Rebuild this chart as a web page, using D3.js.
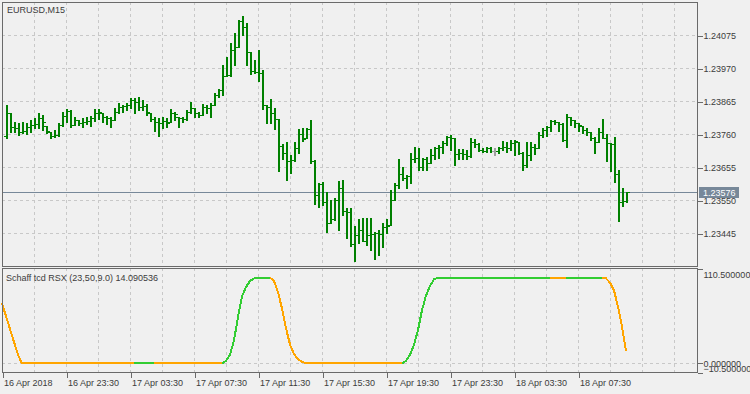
<!DOCTYPE html>
<html>
<head>
<meta charset="utf-8">
<script src="https://cdn.jsdelivr.net/npm/d3@7"></script>
<style>
body { margin: 0; background: #f0f0f0; }
svg text { font-family: "Liberation Sans", Arial, sans-serif; font-size: 9px; fill: #3c3c3c; }
</style>
</head>
<body>
<script>
// EURUSD M15, bars 1..156 (bar 0 sits under the left frame)
var symbol = "EURUSD,M15";
var firstBar = 1;

var opens = [
1.23754,1.23827,1.23782,1.23779,1.23767,1.23770,1.23782,1.23789,1.23792,1.23811,
1.23786,1.23767,1.23754,1.23757,1.23789,1.23817,1.23833,1.23789,1.23805,1.23795,
1.23798,1.23802,1.23811,1.23827,1.23827,1.23814,1.23811,1.23805,1.23830,1.23846,
1.23849,1.23852,1.23868,1.23862,1.23846,1.23849,1.23827,1.23808,1.23798,1.23795,
1.23802,1.23798,1.23827,1.23814,1.23811,1.23808,1.23830,1.23843,1.23827,1.23821,
1.23846,1.23843,1.23852,1.23884,1.23900,1.23945,1.23948,1.24027,1.24037,1.24120,
1.24100,1.24021,1.23961,1.23957,1.23954,1.23852,1.23846,1.23827,1.23808,1.23722,
1.23700,1.23674,1.23677,1.23716,1.23760,1.23747,1.23776,1.23674,1.23566,1.23601,
1.23544,1.23477,1.23490,1.23550,1.23588,1.23515,1.23512,1.23410,1.23439,1.23455,
1.23420,1.23439,1.23442,1.23445,1.23442,1.23464,1.23471,1.23550,1.23598,1.23633,
1.23620,1.23627,1.23681,1.23684,1.23655,1.23681,1.23668,1.23693,1.23716,1.23719,
1.23732,1.23751,1.23747,1.23697,1.23700,1.23697,1.23690,1.23735,1.23728,1.23709,
1.23706,1.23716,1.23706,1.23706,1.23716,1.23719,1.23716,1.23732,1.23735,1.23700,
1.23662,1.23693,1.23719,1.23716,1.23757,1.23773,1.23782,1.23802,1.23798,1.23792,
1.23741,1.23814,1.23805,1.23795,1.23786,1.23773,1.23767,1.23747,1.23735,1.23767,
1.23747,1.23732,1.23728,1.23633,1.23544,1.23547
];
var highs = [
1.23852,1.23827,1.23798,1.23795,1.23798,1.23795,1.23805,1.23811,1.23827,1.23821,
1.23786,1.23767,1.23773,1.23795,1.23830,1.23840,1.23836,1.23814,1.23805,1.23811,
1.23814,1.23817,1.23840,1.23840,1.23827,1.23817,1.23814,1.23843,1.23859,1.23852,
1.23859,1.23875,1.23875,1.23878,1.23868,1.23856,1.23827,1.23814,1.23811,1.23814,
1.23811,1.23840,1.23830,1.23814,1.23814,1.23836,1.23862,1.23843,1.23830,1.23856,
1.23852,1.23859,1.23891,1.23903,1.23980,1.24005,1.24050,1.24081,1.24123,1.24135,
1.24113,1.24021,1.23995,1.24027,1.23964,1.23852,1.23871,1.23843,1.23808,1.23728,
1.23735,1.23693,1.23735,1.23776,1.23779,1.23779,1.23805,1.23677,1.23604,1.23608,
1.23576,1.23550,1.23557,1.23611,1.23614,1.23525,1.23525,1.23468,1.23490,1.23493,
1.23493,1.23493,1.23449,1.23455,1.23477,1.23490,1.23582,1.23604,1.23681,1.23655,
1.23630,1.23700,1.23719,1.23716,1.23684,1.23687,1.23712,1.23719,1.23725,1.23738,
1.23754,1.23757,1.23747,1.23712,1.23712,1.23709,1.23747,1.23744,1.23732,1.23716,
1.23719,1.23719,1.23716,1.23719,1.23738,1.23735,1.23741,1.23741,1.23735,1.23703,
1.23735,1.23735,1.23728,1.23767,1.23779,1.23786,1.23805,1.23805,1.23798,1.23795,
1.23824,1.23814,1.23805,1.23795,1.23786,1.23779,1.23767,1.23751,1.23779,1.23808,
1.23760,1.23732,1.23751,1.23646,1.23588,1.23576
];
var lows = [
1.23747,1.23767,1.23767,1.23757,1.23763,1.23760,1.23767,1.23779,1.23779,1.23773,
1.23763,1.23747,1.23751,1.23754,1.23786,1.23798,1.23782,1.23789,1.23789,1.23782,
1.23792,1.23786,1.23802,1.23808,1.23798,1.23792,1.23782,1.23805,1.23827,1.23830,
1.23836,1.23843,1.23827,1.23836,1.23836,1.23821,1.23802,1.23770,1.23754,1.23779,
1.23782,1.23798,1.23805,1.23782,1.23798,1.23805,1.23827,1.23814,1.23814,1.23821,
1.23827,1.23814,1.23852,1.23878,1.23884,1.23945,1.23945,1.23980,1.24037,1.24075,
1.23980,1.23951,1.23954,1.23929,1.23840,1.23795,1.23795,1.23776,1.23643,1.23681,
1.23614,1.23636,1.23674,1.23700,1.23738,1.23747,1.23668,1.23538,1.23528,1.23534,
1.23449,1.23477,1.23487,1.23455,1.23503,1.23429,1.23404,1.23356,1.23414,1.23420,
1.23407,1.23391,1.23363,1.23375,1.23401,1.23445,1.23471,1.23550,1.23588,1.23614,
1.23588,1.23604,1.23671,1.23646,1.23646,1.23646,1.23668,1.23681,1.23684,1.23700,
1.23725,1.23709,1.23662,1.23681,1.23681,1.23681,1.23687,1.23719,1.23706,1.23703,
1.23703,1.23703,1.23693,1.23700,1.23709,1.23703,1.23709,1.23693,1.23697,1.23646,
1.23655,1.23677,1.23697,1.23716,1.23751,1.23754,1.23770,1.23792,1.23770,1.23738,
1.23719,1.23789,1.23782,1.23770,1.23763,1.23757,1.23741,1.23700,1.23735,1.23747,
1.23674,1.23643,1.23608,1.23484,1.23531,1.23544
];
var closes = [
1.23827,1.23782,1.23779,1.23767,1.23770,1.23782,1.23789,1.23792,1.23811,1.23798,
1.23770,1.23754,1.23757,1.23789,1.23817,1.23833,1.23789,1.23805,1.23795,1.23798,
1.23802,1.23811,1.23827,1.23830,1.23814,1.23811,1.23805,1.23830,1.23846,1.23849,
1.23852,1.23868,1.23862,1.23846,1.23849,1.23830,1.23808,1.23798,1.23795,1.23802,
1.23795,1.23827,1.23824,1.23811,1.23808,1.23830,1.23843,1.23827,1.23821,1.23846,
1.23843,1.23852,1.23884,1.23900,1.23945,1.23948,1.24027,1.24037,1.24120,1.24100,
1.24021,1.23961,1.23957,1.23954,1.23852,1.23846,1.23827,1.23808,1.23722,1.23700,
1.23674,1.23677,1.23716,1.23760,1.23744,1.23776,1.23674,1.23566,1.23601,1.23544,
1.23477,1.23490,1.23550,1.23588,1.23515,1.23512,1.23410,1.23439,1.23455,1.23420,
1.23439,1.23442,1.23445,1.23442,1.23464,1.23468,1.23550,1.23598,1.23633,1.23620,
1.23627,1.23681,1.23684,1.23655,1.23681,1.23668,1.23693,1.23716,1.23719,1.23732,
1.23751,1.23747,1.23697,1.23700,1.23697,1.23690,1.23735,1.23728,1.23709,1.23706,
1.23716,1.23706,1.23706,1.23716,1.23719,1.23716,1.23732,1.23738,1.23700,1.23662,
1.23693,1.23719,1.23716,1.23757,1.23773,1.23782,1.23802,1.23798,1.23792,1.23741,
1.23814,1.23805,1.23795,1.23789,1.23773,1.23767,1.23747,1.23735,1.23767,1.23747,
1.23732,1.23728,1.23633,1.23544,1.23547,1.23576
];

// Schaff tcd RSX, bars 0..156
var schaff = [
70,55,40,25,10,0,0,0,0,0,
0,0,0,0,0,0,0,0,0,0,
0,0,0,0,0,0,0,0,0,0,
0,0,0,0,0,0,0,0,0,0,
0,0,0,0,0,0,0,0,0,0,
0,0,0,0,0,0,3,10,27,54,
78,89,96,99,100,100,100,100,96,83,
64,41,22,11,5,2,0,0,0,0,
0,0,0,0,0,0,0,0,0,0,
0,0,0,0,0,0,0,0,0,0,
0,3,10,22,39,62,79,90,98,100,
100,100,100,100,100,100,100,100,100,100,
100,100,100,100,100,100,100,100,100,100,
100,100,100,100,100,100,100,100,100,100,
100,100,100,100,100,100,100,100,100,100,
100,99,94,85,66,43,14.090536
];
// bar ranges where the indicator is in its "up" state
var upRanges = [[33, 38], [55, 67], [100, 137], [141, 150]];
var indicatorName = "Schaff tcd RSX (23,50,9.0)";

var priceTicks = [1.24075, 1.23970, 1.23865, 1.23760, 1.23655, 1.23550, 1.23445];
var lastPrice = 1.23576;
var schaffTicks = [110.5, 0, -10.5];
var timeTickBars = [0, 16, 32, 48, 64, 80, 96, 112, 128, 144];
var timeLabels = ["16 Apr 2018", "16 Apr 23:30", "17 Apr 03:30", "17 Apr 07:30", "17 Apr 11:30",
                  "17 Apr 15:30", "17 Apr 19:30", "17 Apr 23:30", "18 Apr 03:30", "18 Apr 07:30"];

var frameColor = "#6a6a6a", gridColor = "#c8c8c8";
var left = 2, right = 697, mainTop = 2, mainBottom = 266, indTop = 268, indBottom = 372.5;

var svg = d3.select("body").append("svg")
	.attr("width", 750)
	.attr("height", 394)
	.style("display", "block");

svg.append("rect").attr("width", 750).attr("height", 394).attr("fill", "#f0f0f0");

var x = d3.scaleLinear().domain([0, (right - left) / 4]).range([left, right]);
var y = d3.scaleLinear().domain([1.23341, 1.24180]).range([mainBottom, mainTop]);
var ys = d3.scaleLinear().domain([-10.5, 110.5]).range([indBottom, indTop + 0.5]);

function px(v) { return Math.round(v) + 0.5; }

/*Grid*/
var grid = svg.append("g").attr("stroke", gridColor).attr("stroke-dasharray", "3,3").attr("shape-rendering", "crispEdges");
var gridBars = d3.range(8, (right - left) / 4, 8);
gridBars.forEach(function(b) {
	grid.append("line").attr("x1", px(x(b))).attr("x2", px(x(b))).attr("y1", mainTop).attr("y2", mainBottom);
	grid.append("line").attr("x1", px(x(b))).attr("x2", px(x(b))).attr("y1", indTop).attr("y2", indBottom);
});
priceTicks.forEach(function(p) {
	grid.append("line").attr("x1", left).attr("x2", right).attr("y1", px(y(p))).attr("y2", px(y(p)));
});
grid.append("line").attr("x1", left).attr("x2", right).attr("y1", px(ys(0))).attr("y2", px(ys(0)));

/*Price line*/
svg.append("line")
	.attr("x1", left).attr("x2", right)
	.attr("y1", px(y(lastPrice))).attr("y2", px(y(lastPrice)))
	.attr("stroke", "#778899").attr("shape-rendering", "crispEdges");

/*Bars*/
var bars = opens.map(function(o, k) {
	return {i: k + firstBar, o: o, h: highs[k], l: lows[k], c: closes[k]};
});
var barG = svg.append("g").attr("shape-rendering", "crispEdges");
bars.forEach(function(d) {
	var bx = Math.round(x(d.i));
	var col = d.o === d.c ? "#a0a0a0" : "#008000";
	var yh = Math.round(y(d.h)), yl = Math.round(y(d.l));
	barG.append("rect").attr("x", bx).attr("y", yh).attr("width", 2).attr("height", yl - yh + 1).attr("fill", col);
	barG.append("rect").attr("x", bx - 2).attr("y", Math.round(y(d.o))).attr("width", 2).attr("height", 1).attr("fill", col);
	barG.append("rect").attr("x", bx + 2).attr("y", Math.round(y(d.c))).attr("width", 2).attr("height", 1).attr("fill", col);
});

/*Indicator*/
function isUp(k) {
	return upRanges.some(function(r) { return k >= r[0] && k < r[1]; });
}
var runs = [];
for (var k = 0; k < schaff.length - 1; k++) {
	var up = isUp(k);
	var last = runs[runs.length - 1];
	if (last && last.up === up) last.pts.push(k + 1);
	else runs.push({up: up, pts: [k, k + 1]});
}
var sLine = d3.line()
	.x(function(k) { return x(k); })
	.y(function(k) { return ys(schaff[k]); });
svg.append("g").selectAll("path")
	.data(runs)
	.enter().append("path")
	.attr("d", function(r) { return sLine(r.pts); })
	.attr("fill", "none")
	.attr("stroke", function(r) { return r.up ? "#32cd32" : "#ffa500"; })
	.attr("stroke-width", 2)
	.attr("shape-rendering", "crispEdges");

/*Frame*/
var frame = svg.append("g").attr("stroke", frameColor).attr("fill", "none").attr("shape-rendering", "crispEdges");
frame.append("rect").attr("x", left + 0.5).attr("y", mainTop + 0.5).attr("width", right - left).attr("height", mainBottom - mainTop);
frame.append("rect").attr("x", left + 0.5).attr("y", indTop + 0.5).attr("width", right - left).attr("height", indBottom - indTop - 0.5);

/*Axes*/
var yAxis = d3.axisRight(y).tickValues(priceTicks).tickFormat(d3.format(".5f")).tickSize(5).tickPadding(1);
var gy = svg.append("g").attr("transform", "translate(" + (right + 0.5) + ",0.5)").call(yAxis);

var sAxis = d3.axisRight(ys).tickValues(schaffTicks).tickFormat(d3.format(".6f")).tickSize(5).tickPadding(1);
var gs = svg.append("g").attr("transform", "translate(" + (right + 0.5) + ",0)").call(sAxis);
gs.selectAll(".tick text").attr("dy", function(d) { return d === 110.5 ? 8.5 : (d < 0 ? -1.5 : 3); });

var xAxis = d3.axisBottom(x).tickValues(timeTickBars)
	.tickFormat(function(d, k) { return timeLabels[k]; })
	.tickSize(5).tickPadding(2);
var gx = svg.append("g").attr("transform", "translate(0.5," + indBottom + ")").call(xAxis);
gx.selectAll(".tick text").attr("text-anchor", "start").attr("x", 1);

[gy, gs, gx].forEach(function(g) {
	g.select(".domain").remove();
	g.selectAll(".tick line").attr("stroke", frameColor).attr("shape-rendering", "crispEdges");
	g.selectAll(".tick text").attr("fill", "#3c3c3c").style("font-family", null).style("font-size", null)
		.attr("font-family", null).attr("font-size", null);
});
svg.selectAll("g").attr("font-family", null).attr("font-size", null);

/*Last price label*/
var ly = Math.round(y(lastPrice));
svg.append("rect").attr("x", right + 2).attr("y", ly - 5).attr("width", 40).attr("height", 11).attr("fill", "#778899");
svg.append("text").attr("x", right + 6).attr("y", ly + 0.5).attr("dy", "0.35em").style("fill", "#ffffff")
	.text(d3.format(".5f")(lastPrice));

/*Titles*/
svg.append("text").attr("x", 7).attr("y", 13).text(symbol);
svg.append("text").attr("x", 6).attr("y", 281)
	.text(indicatorName + " " + d3.format(".6f")(schaff[schaff.length - 1]));
</script>
</body>
</html>
